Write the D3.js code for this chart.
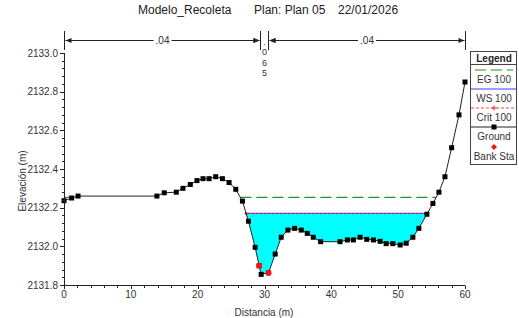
<!DOCTYPE html>
<html><head><meta charset="utf-8">
<script src="https://cdn.jsdelivr.net/npm/d3@7"></script>
<style>body{margin:0;background:#fff}svg{display:block;font-family:"Liberation Sans",Arial,sans-serif}</style>
</head><body><svg id="c" width="519" height="318"></svg>
<script>
const titleParts = ["Modelo_Recoleta", "Plan: Plan 05", "22/01/2026"];
const stations = [0,1.15,2.1,13.9,15,16.8,17.8,18.9,19.9,20.8,21.7,22.7,23.7,24.7,25.7,26.7,27.6,28.6,29.2,29.5,30.6,31.6,32.5,33.5,34.5,35.5,36.4,37.3,38.4,41.3,42.4,43.3,44.3,45.3,46.3,47.3,48.2,49.2,50.3,51.2,52.2,53.1,54.3,55.2,56.1,57.0,58.0,59.1,60];
const elevations = [2132.236,2132.25,2132.26,2132.26,2132.277,2132.28,2132.30,2132.32,2132.34,2132.35,2132.35,2132.36,2132.35,2132.33,2132.295,2132.234,2132.13,2131.995,2131.90,2131.855,2131.863,2131.96,2132.047,2132.084,2132.093,2132.084,2132.067,2132.047,2132.024,2132.024,2132.033,2132.033,2132.047,2132.036,2132.033,2132.026,2132.014,2132.014,2132.007,2132.016,2132.047,2132.093,2132.166,2132.222,2132.28,2132.36,2132.51,2132.68,2132.85];
const bankStations = [29.2, 30.6];
const manningN = [".04", ".065", ".04"];
const egElev = 2132.253;
const wsElev = 2132.17;
const critElev = 2132.17;
const yTicks = [2131.8,2132.0,2132.2,2132.4,2132.6,2132.8,2133.0];
const xTicks = [0,10,20,30,40,50,60];
const legendItems = ["EG 100","WS 100","Crit 100","Ground","Bank Sta"];

const svg = d3.select("#c");
const x = d3.scaleLinear().domain([0,60]).range([64,465]);
const y = d3.scaleLinear().domain([2131.8,2133.0]).range([285,53]);
const ground = stations.map((s,i)=>({s, e: elevations[i]}));

function groundAt(s){
  for(let i=0;i<ground.length-1;i++){
    const a=ground[i], b=ground[i+1];
    if(s>=a.s && s<=b.s){ return a.e + (b.e-a.e)*(s-a.s)/(b.s-a.s); }
  }
  return ground[ground.length-1].e;
}
// segments where ground lies below a level
function wetSegments(level){
  const segs=[]; let cur=null;
  for(let i=0;i<ground.length;i++){
    const p=ground[i];
    if(p.e<level){
      if(!cur){
        if(i>0){const q=ground[i-1]; const t=(level-q.e)/(p.e-q.e); cur=[{s:q.s+t*(p.s-q.s),e:level}];}
        else cur=[{s:p.s,e:level}];
      }
      cur.push(p);
    } else if(cur){
      const q=ground[i-1]; const t=(level-q.e)/(p.e-q.e);
      cur.push({s:q.s+t*(p.s-q.s),e:level}); segs.push(cur); cur=null;
    }
  }
  if(cur){cur.push({s:ground[ground.length-1].s,e:level}); segs.push(cur);}
  return segs;
}

// Title
svg.append("text").attr("x",138).attr("y",14).attr("font-size",12).attr("fill","#222").text(titleParts[0]);
svg.append("text").attr("x",254).attr("y",14).attr("font-size",12).attr("fill","#222").text(titleParts[1]);
svg.append("text").attr("x",338).attr("y",14).attr("font-size",12).attr("fill","#222").text(titleParts[2]);

// water fill
const wsSegs = wetSegments(wsElev);
wsSegs.forEach(seg=>{
  svg.append("path").attr("d", d3.line().x(d=>x(d.s)).y(d=>y(d.e))(seg)+"Z").attr("fill","#00ffff").attr("stroke","none");
});

// EG
wetSegments(egElev).forEach(seg=>{
  const a=seg[0].s, b=seg[seg.length-1].s;
  svg.append("line").attr("x1",x(a)).attr("x2",x(b)).attr("y1",y(egElev)).attr("y2",y(egElev))
    .attr("stroke","#1a9a1a").attr("stroke-width",1.2).attr("stroke-dasharray","11,5");
});
// WS and Crit
wsSegs.forEach(seg=>{
  const a=seg[0].s, b=seg[seg.length-1].s;
  svg.append("line").attr("x1",x(a)).attr("x2",x(b)).attr("y1",y(wsElev)).attr("y2",y(wsElev))
    .attr("stroke","#3a3aff").attr("stroke-width",1.3);
  svg.append("line").attr("x1",x(a)).attr("x2",x(b)).attr("y1",y(critElev)).attr("y2",y(critElev))
    .attr("stroke","#ff4040").attr("stroke-width",1.1).attr("stroke-dasharray","2,2");
  [a,b].forEach(s=>svg.append("circle").attr("cx",x(s)).attr("cy",y(critElev)).attr("r",1.5).attr("fill","#ff2020"));
});

// Ground line
svg.append("path").datum(ground).attr("d", d3.line().x(d=>x(d.s)).y(d=>y(d.e)))
  .attr("fill","none").attr("stroke","#222").attr("stroke-width",1);
svg.selectAll("rect.g").data(ground).enter().append("rect")
  .attr("x",d=>x(d.s)-2.5).attr("y",d=>y(d.e)-2.5).attr("width",5).attr("height",5).attr("fill","#000");
// bank stations
svg.selectAll("circle.b").data(bankStations).enter().append("circle")
  .attr("cx",d=>x(d)).attr("cy",d=>y(groundAt(d))).attr("r",3).attr("fill","#ff1010");

// Axes
const ax = svg.append("g").attr("stroke","#222").attr("stroke-width",1);
ax.append("line").attr("x1",64.5).attr("x2",64.5).attr("y1",y(2133.0)).attr("y2",y(2131.8));
ax.append("line").attr("x1",64).attr("x2",465).attr("y1",285.5).attr("y2",285.5);
d3.range(0,31).forEach(i=>{
  const v=2131.8+i*0.04; const major = i%5===0;
  ax.append("line").attr("x1",major?60:62).attr("x2",64.5).attr("y1",Math.round(y(v))+0.5).attr("y2",Math.round(y(v))+0.5);
});
d3.range(0,31).forEach(i=>{
  const v=i*2; const major=i%5===0;
  ax.append("line").attr("x1",Math.round(x(v))+0.5).attr("x2",Math.round(x(v))+0.5).attr("y1",285.5).attr("y2",major?289:288);
});
svg.selectAll("text.yt").data(yTicks).enter().append("text")
  .attr("x",58).attr("y",d=>y(d)+3.5).attr("text-anchor","end").attr("font-size",10).attr("fill","#333")
  .text(d=>d3.format(".1f")(d));
svg.selectAll("text.xt").data(xTicks).enter().append("text")
  .attr("x",d=>x(d)).attr("y",298).attr("text-anchor","middle").attr("font-size",10).attr("fill","#333")
  .text(d=>d);
svg.append("text").attr("x",264).attr("y",316).attr("text-anchor","middle").attr("font-size",10).attr("fill","#333").text("Distancia (m)");
svg.append("text").attr("transform","translate(26,181) rotate(-90)").attr("text-anchor","middle").attr("font-size",10).attr("fill","#333").text("Elevación (m)");

// Manning n annotation
const an = svg.append("g").attr("stroke","#222").attr("stroke-width",1);
const bx = [0, bankStations[0]+0.1, bankStations[1]-0.1, 60].map(v=>Math.round(x(v))+0.5);
bx.forEach(px=>an.append("line").attr("x1",px).attr("x2",px).attr("y1",31).attr("y2",50));
function arrowSpan(x1,x2,label){
  an.append("line").attr("x1",x1+1).attr("x2",x2-1).attr("y1",40.5).attr("y2",40.5);
  an.append("path").attr("d",`M${x1+1},40.5 l6,-2.5 v5 Z`).attr("fill","#222").attr("stroke","none");
  an.append("path").attr("d",`M${x2-1},40.5 l-6,-2.5 v5 Z`).attr("fill","#222").attr("stroke","none");
  const cx=(x1+x2)/2;
  svg.append("rect").attr("x",cx-9).attr("y",35).attr("width",18).attr("height",11).attr("fill","#fff");
  svg.append("text").attr("x",cx).attr("y",44).attr("text-anchor","middle").attr("font-size",10).attr("fill","#333").text(label);
}
arrowSpan(bx[0],bx[1],manningN[0]);
arrowSpan(bx[2],bx[3],manningN[2]);
an.append("path").attr("d",`M${bx[1]-1},40.5 l-6,-2.5 v5 Z`).attr("fill","#222").attr("stroke","none");
an.append("path").attr("d",`M${bx[2]+1},40.5 l6,-2.5 v5 Z`).attr("fill","#222").attr("stroke","none");
const mc=(bx[1]+bx[2])/2;
manningN[1].split("").forEach((ch,i)=>{
  svg.append("text").attr("x",mc).attr("y",[45,55,66,76][i]).attr("text-anchor","middle").attr("font-size",9).attr("fill","#333").text(ch);
});

// Legend
const lg = svg.append("g");
lg.append("rect").attr("x",470.5).attr("y",51.5).attr("width",46).attr("height",113).attr("fill","#fff").attr("stroke","#444");
lg.append("line").attr("x1",470.5).attr("x2",516.5).attr("y1",64.5).attr("y2",64.5).attr("stroke","#444");
lg.append("text").attr("x",494).attr("y",62).attr("text-anchor","middle").attr("font-size",10).attr("font-weight","bold").attr("fill","#222").text("Legend");
const ly = [70,89,108,127,147];
legendItems.forEach((t,i)=>{
  lg.append("text").attr("x",494).attr("y",ly[i]+13).attr("text-anchor","middle").attr("font-size",10).attr("fill","#333").text(t);
});
lg.append("line").attr("x1",475).attr("x2",513).attr("y1",ly[0]).attr("y2",ly[0]).attr("stroke","#1a9a1a").attr("stroke-dasharray","11,5");
lg.append("line").attr("x1",471).attr("x2",516).attr("y1",ly[1]).attr("y2",ly[1]).attr("stroke","#3a3aff");
lg.append("line").attr("x1",471).attr("x2",516).attr("y1",ly[2]).attr("y2",ly[2]).attr("stroke","#ff4040").attr("stroke-dasharray","3,2");
lg.append("path").attr("d",`M494,${ly[2]-2.5}v5M491.5,${ly[2]}h5`).attr("stroke","#ff2020");
lg.append("line").attr("x1",471).attr("x2",516).attr("y1",ly[3]).attr("y2",ly[3]).attr("stroke","#222");
lg.append("rect").attr("x",491.5).attr("y",ly[3]-2.5).attr("width",5).attr("height",5).attr("fill","#000");
lg.append("path").attr("d",`M494,${ly[4]-3}l3,3l-3,3l-3,-3Z`).attr("fill","#ff1010");
</script></body></html>
